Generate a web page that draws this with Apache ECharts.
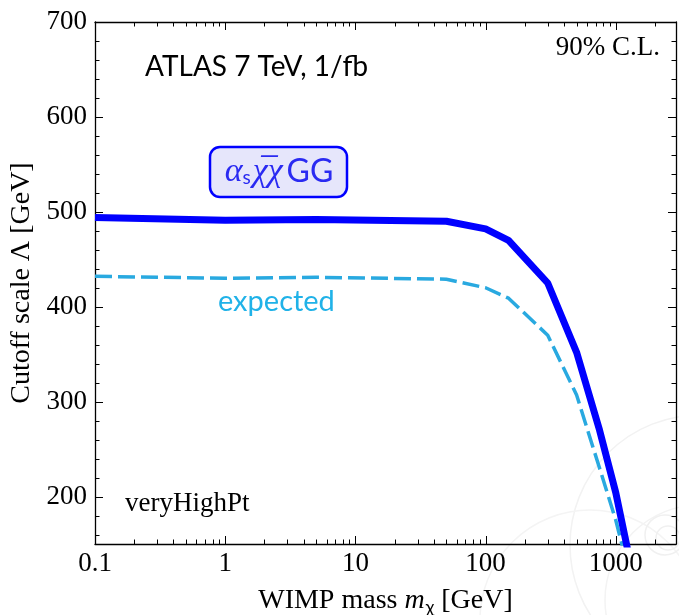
<!DOCTYPE html>
<html>
<head>
<meta charset="utf-8">
<script src="https://cdn.jsdelivr.net/npm/echarts@6/dist/echarts.min.js"></script>
<style>
  html, body { margin: 0; padding: 0; background: #fff; }
  #chart { width: 679px; height: 615px; }
</style>
</head>
<body>
<div id="chart"></div>
<script>
// WIMP mass (GeV) et limites sur Lambda (GeV)
const massGeV = [0.1, 1, 5, 50, 100, 150, 300, 500, 750, 1000, 1500];
const lambdaObserved = [494, 491, 492, 490, 482, 470, 425, 352, 270, 204, 88];
const lambdaExpected = [432, 430, 431, 429, 420, 409, 370, 307, 230, 175, 80];

// bornes des axes et graduations
const xRange = [0.1, 2900];
const yRange = [150, 700];
const xTicks = [0.1, 1, 10, 100, 1000];
const yTicks = [200, 300, 400, 500, 600, 700];
const xMinorTicks = [];
for (const d of [0.1, 1, 10, 100, 1000]) {
  for (let k = 2; k <= 9; k++) {
    const v = +(d * k).toPrecision(3);
    if (v < xRange[1]) xMinorTicks.push(v);
  }
}
const yMinorTicks = [160, 180, 220, 240, 260, 280, 320, 340, 360, 380,
  420, 440, 460, 480, 520, 540, 560, 580, 620, 640, 660, 680];

const serif = '"Liberation Serif", "DejaVu Serif", serif';
const sans = 'Lato, "Open Sans", sans-serif';

const chart = echarts.init(document.getElementById('chart'));

function pair(arrX, arrY) {
  return arrX.map((x, i) => [x, arrY[i]]);
}

// graduations dessinees a l'interieur du cadre, sur les 4 cotes
function renderTicks(params, api) {
  const lo = api.coord([xRange[0], yRange[0]]);
  const hi = api.coord([xRange[1], yRange[1]]);
  const x0 = lo[0], y1 = lo[1], x1 = hi[0], y0 = hi[1];
  const children = [];
  const seg = (ax, ay, bx, by) => children.push({
    type: 'line',
    shape: { x1: ax, y1: ay, x2: bx, y2: by },
    style: { stroke: '#000', lineWidth: 1 }
  });
  xTicks.concat(xMinorTicks).forEach(v => {
    const len = xTicks.includes(v) ? 8 : 4.5;
    const px = Math.round(api.coord([v, yRange[0]])[0]) + 0.5;
    seg(px, y1, px, y1 - len);
    seg(px, y0, px, y0 + len);
  });
  yTicks.concat(yMinorTicks).forEach(v => {
    const len = yTicks.includes(v) ? 8 : 4.5;
    const py = Math.round(api.coord([xRange[0], v])[1]) + 0.5;
    seg(x0, py, x0 + len, py);
    seg(x1, py, x1 - len, py);
  });
  return { type: 'group', children: children };
}

const option = {
  backgroundColor: '#fff',
  animation: false,
  grid: { left: 95, right: 3, top: 22, bottom: 71, containLabel: false, outerBoundsMode: 'none' },
  xAxis: [{
    type: 'log',
    logBase: 10,
    min: xRange[0],
    max: xRange[1],
    axisLine: { show: true, lineStyle: { color: '#000', width: 1.3 } },
    axisTick: { show: false },
    axisLabel: { customValues: xTicks, color: '#000',
      fontFamily: serif, fontSize: 27, margin: 6,
      formatter: v => (v < 1 ? v.toFixed(1) : String(Math.round(v))) },
    splitLine: { show: false },
    name: '{r|WIMP mass }{i|m}{s|χ}{r| [GeV]}',
    nameLocation: 'middle',
    nameGap: 42,
    nameTextStyle: {
      rich: {
        r: { fontFamily: serif, fontSize: 28, color: '#000' },
        i: { fontFamily: serif, fontSize: 28, fontStyle: 'italic', color: '#000' },
        s: { fontFamily: sans, fontSize: 18, color: '#000', padding: [12, 0, 0, 1] }
      }
    }
  }, {
    type: 'log',
    logBase: 10,
    min: xRange[0],
    max: xRange[1],
    position: 'top',
    axisLine: { show: true, lineStyle: { color: '#000', width: 1.3 } },
    axisTick: { show: false },
    axisLabel: { show: false },
    splitLine: { show: false }
  }],
  yAxis: [{
    type: 'value',
    min: yRange[0],
    max: yRange[1],
    axisLine: { show: true, lineStyle: { color: '#000', width: 1.3 } },
    axisTick: { show: false },
    axisLabel: { customValues: yTicks, color: '#000',
      fontFamily: serif, fontSize: 27, margin: 8 },
    splitLine: { show: false },
    name: 'Cutoff scale Λ [GeV]',
    nameLocation: 'middle',
    nameGap: 58,
    nameTextStyle: { fontFamily: serif, fontSize: 28, color: '#000' }
  }, {
    type: 'value',
    min: yRange[0],
    max: yRange[1],
    position: 'right',
    axisLine: { show: true, lineStyle: { color: '#000', width: 1.3 } },
    axisTick: { show: false },
    axisLabel: { show: false },
    splitLine: { show: false }
  }],
  graphic: [
    // filigrane (traces d'evenement) tres pale
    { type: 'circle', silent: true, z: 0, shape: { cx: 700, cy: 545, r: 130 },
      style: { fill: 'none', stroke: '#f2f2f2', lineWidth: 1.5 } },
    { type: 'circle', silent: true, z: 0, shape: { cx: 700, cy: 600, r: 95 },
      style: { fill: 'none', stroke: '#f3f3f3', lineWidth: 1.5 } },
    { type: 'circle', silent: true, z: 0, shape: { cx: 590, cy: 620, r: 110 },
      style: { fill: 'none', stroke: '#f4f4f4', lineWidth: 1.5 } },
    { type: 'circle', silent: true, z: 0, shape: { cx: 665, cy: 535, r: 20 },
      style: { fill: 'none', stroke: '#f0f0f0', lineWidth: 1.5 } },
    { type: 'circle', silent: true, z: 0, shape: { cx: 668, cy: 538, r: 12 },
      style: { fill: 'none', stroke: '#f0f0f0', lineWidth: 1.5 } },
    // textes
    { type: 'text', left: 145, top: 53, z: 10,
      style: { text: 'ATLAS 7 TeV, 1/fb', font: '28px ' + sans, fill: '#000' } },
    { type: 'text', right: 19, top: 34, z: 10,
      style: { text: '90% C.L.', font: '27px ' + serif, fill: '#000' } },
    { type: 'text', left: 125, top: 490, z: 10,
      style: { text: 'veryHighPt', font: '27px ' + serif, fill: '#000' } },
    { type: 'text', left: 218, top: 287, z: 10,
      style: { text: 'expected', font: '29px ' + sans, fill: '#20b2e8' } },
    // etiquette encadree
    { type: 'rect', z: 10, shape: { x: 210, y: 147, width: 137, height: 50, r: 10 },
      style: { fill: '#e6e6fb', stroke: '#0000ff', lineWidth: 2.5 } },
    { type: 'text', z: 11, x: 279, y: 172,
      style: {
        text: '{a|α}{s|s}{b|χ\u0305χ}{g|GG}',
        align: 'center', verticalAlign: 'middle',
        rich: {
          a: { font: 'italic 34px ' + serif, fill: '#2a2af2' },
          s: { font: '19px ' + sans, fill: '#2a2af2', padding: [12, 2, 0, 0] },
          b: { font: 'italic 34px ' + serif, fill: '#2a2af2', padding: [0, 4, 0, 0] },
          g: { font: '32px ' + sans, fill: '#2a2af2' }
        }
      } }
  ],
  series: [
    {
      name: 'expected',
      type: 'line',
      data: pair(massGeV, lambdaExpected),
      showSymbol: false,
      clip: true,
      lineStyle: { color: '#29a9e0', width: 3.5, type: [17, 6] },
      z: 3
    },
    {
      name: 'observed',
      type: 'line',
      data: pair(massGeV, lambdaObserved),
      showSymbol: false,
      clip: true,
      lineStyle: { color: '#0000ff', width: 7 },
      z: 4
    },
    {
      name: 'ticks',
      type: 'custom',
      data: [[1, 400]],
      renderItem: renderTicks,
      clip: false,
      silent: true,
      z: 5
    }
  ]
};

chart.setOption(option);
</script>
</body>
</html>
